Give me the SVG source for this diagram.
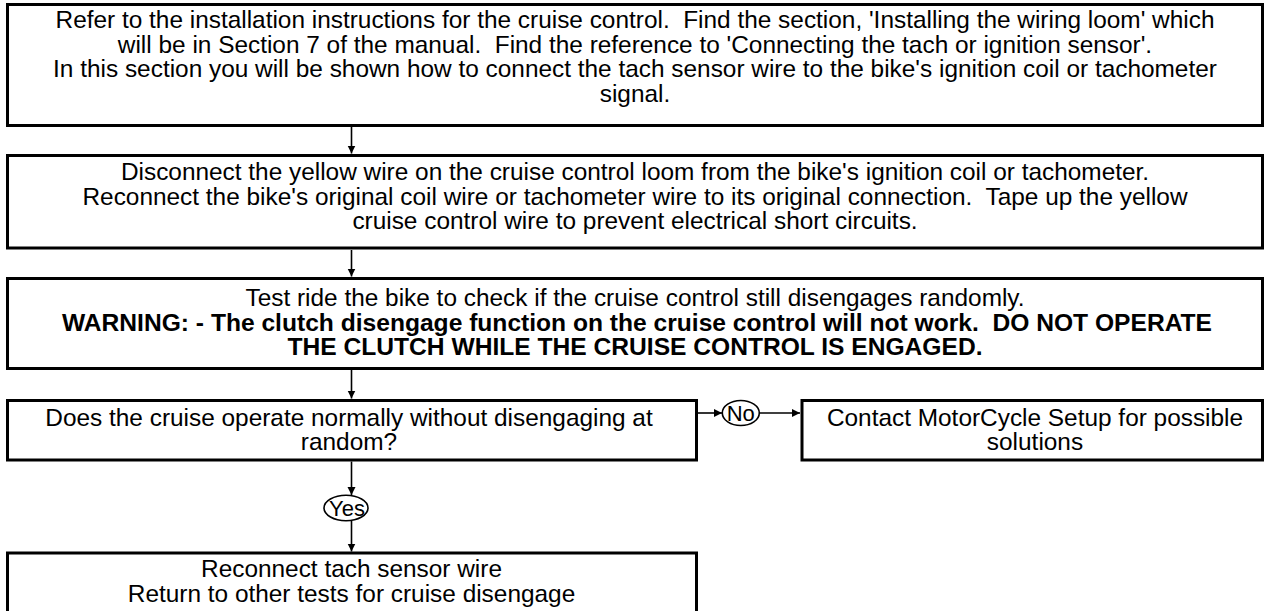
<svg xmlns="http://www.w3.org/2000/svg" width="1266" height="611" viewBox="0 0 1266 611">
<style>
.box{fill:#fff;stroke:#000;stroke-width:3}
.t{font-family:"Liberation Sans",Arial,sans-serif;font-size:24.4px;fill:#000;text-anchor:middle}
.b{font-weight:bold;font-size:24.6px}
.l{font-size:22px}
.c{stroke:#000;stroke-width:1.6;fill:none}
.ov{fill:#fff;stroke:#000;stroke-width:1.6}
</style>
<defs>
<marker id="ah" markerWidth="10" markerHeight="10" refX="8" refY="4" orient="auto" markerUnits="userSpaceOnUse">
<path d="M0,0 L8,4 L0,8 Z" fill="#000"/>
</marker>
</defs>
<rect width="1266" height="611" fill="#fff"/>
<g id="connectors">
<line class="c" x1="351.5" y1="127" x2="351.5" y2="153.5" marker-end="url(#ah)"/>
<line class="c" x1="351.5" y1="250" x2="351.5" y2="276.5" marker-end="url(#ah)"/>
<line class="c" x1="351.5" y1="370" x2="351.5" y2="398.5" marker-end="url(#ah)"/>
<line class="c" x1="698" y1="413" x2="722" y2="413" marker-end="url(#ah)"/>
<line class="c" x1="759.5" y1="413" x2="800" y2="413" marker-end="url(#ah)"/>
<line class="c" x1="351.5" y1="461.5" x2="351.5" y2="495" marker-end="url(#ah)"/>
<line class="c" x1="351.5" y1="521" x2="351.5" y2="551.5" marker-end="url(#ah)"/>
</g>
<g id="label-no">
<ellipse class="ov" cx="740.8" cy="413" rx="18.5" ry="12.5"/>
<text class="t l" x="740.8" y="420.5">No</text>
</g>
<g id="label-yes">
<ellipse class="ov" cx="346" cy="508" rx="22" ry="12.7"/>
<text class="t l" x="347" y="515.5">Yes</text>
</g>
<g id="n1">
<rect class="box" x="7.5" y="4.5" width="1255" height="121"/>
<text class="t" xml:space="preserve" x="635" y="28">Refer to the installation instructions for the cruise control.  Find the section, 'Installing the wiring loom' which</text>
<text class="t" xml:space="preserve" x="635" y="52.5">will be in Section 7 of the manual.  Find the reference to 'Connecting the tach or ignition sensor'.</text>
<text class="t" xml:space="preserve" x="635" y="77">In this section you will be shown how to connect the tach sensor wire to the bike's ignition coil or tachometer</text>
<text class="t" xml:space="preserve" x="635" y="101.5">signal.</text>
</g>
<g id="n2">
<rect class="box" x="7.5" y="155.5" width="1255" height="92.5"/>
<text class="t" xml:space="preserve" x="635" y="180">Disconnect the yellow wire on the cruise control loom from the bike's ignition coil or tachometer.</text>
<text class="t" xml:space="preserve" x="635" y="204.5">Reconnect the bike's original coil wire or tachometer wire to its original connection.  Tape up the yellow</text>
<text class="t" xml:space="preserve" x="635" y="229">cruise control wire to prevent electrical short circuits.</text>
</g>
<g id="n3">
<rect class="box" x="7.5" y="278.5" width="1255" height="90"/>
<text class="t" xml:space="preserve" x="635" y="306">Test ride the bike to check if the cruise control still disengages randomly.</text>
<text class="t b" xml:space="preserve" x="637" y="330.5">WARNING: - The clutch disengage function on the cruise control will not work.  DO NOT OPERATE</text>
<text class="t b" xml:space="preserve" x="635" y="355">THE CLUTCH WHILE THE CRUISE CONTROL IS ENGAGED.</text>
</g>
<g id="n4">
<rect class="box" x="7.5" y="400.5" width="689" height="59.5"/>
<text class="t" xml:space="preserve" x="349" y="425.5">Does the cruise operate normally without disengaging at</text>
<text class="t" xml:space="preserve" x="349" y="450">random?</text>
</g>
<g id="n5">
<rect class="box" x="802" y="400.5" width="460.5" height="59.5"/>
<text class="t" xml:space="preserve" x="1035" y="425.5">Contact MotorCycle Setup for possible</text>
<text class="t" xml:space="preserve" x="1035" y="450">solutions</text>
</g>
<g id="n6">
<rect class="box" x="7.5" y="553" width="689" height="70"/>
<text class="t" xml:space="preserve" x="351.5" y="577">Reconnect tach sensor wire</text>
<text class="t" xml:space="preserve" x="351.5" y="601.5">Return to other tests for cruise disengage</text>
</g>
</svg>
